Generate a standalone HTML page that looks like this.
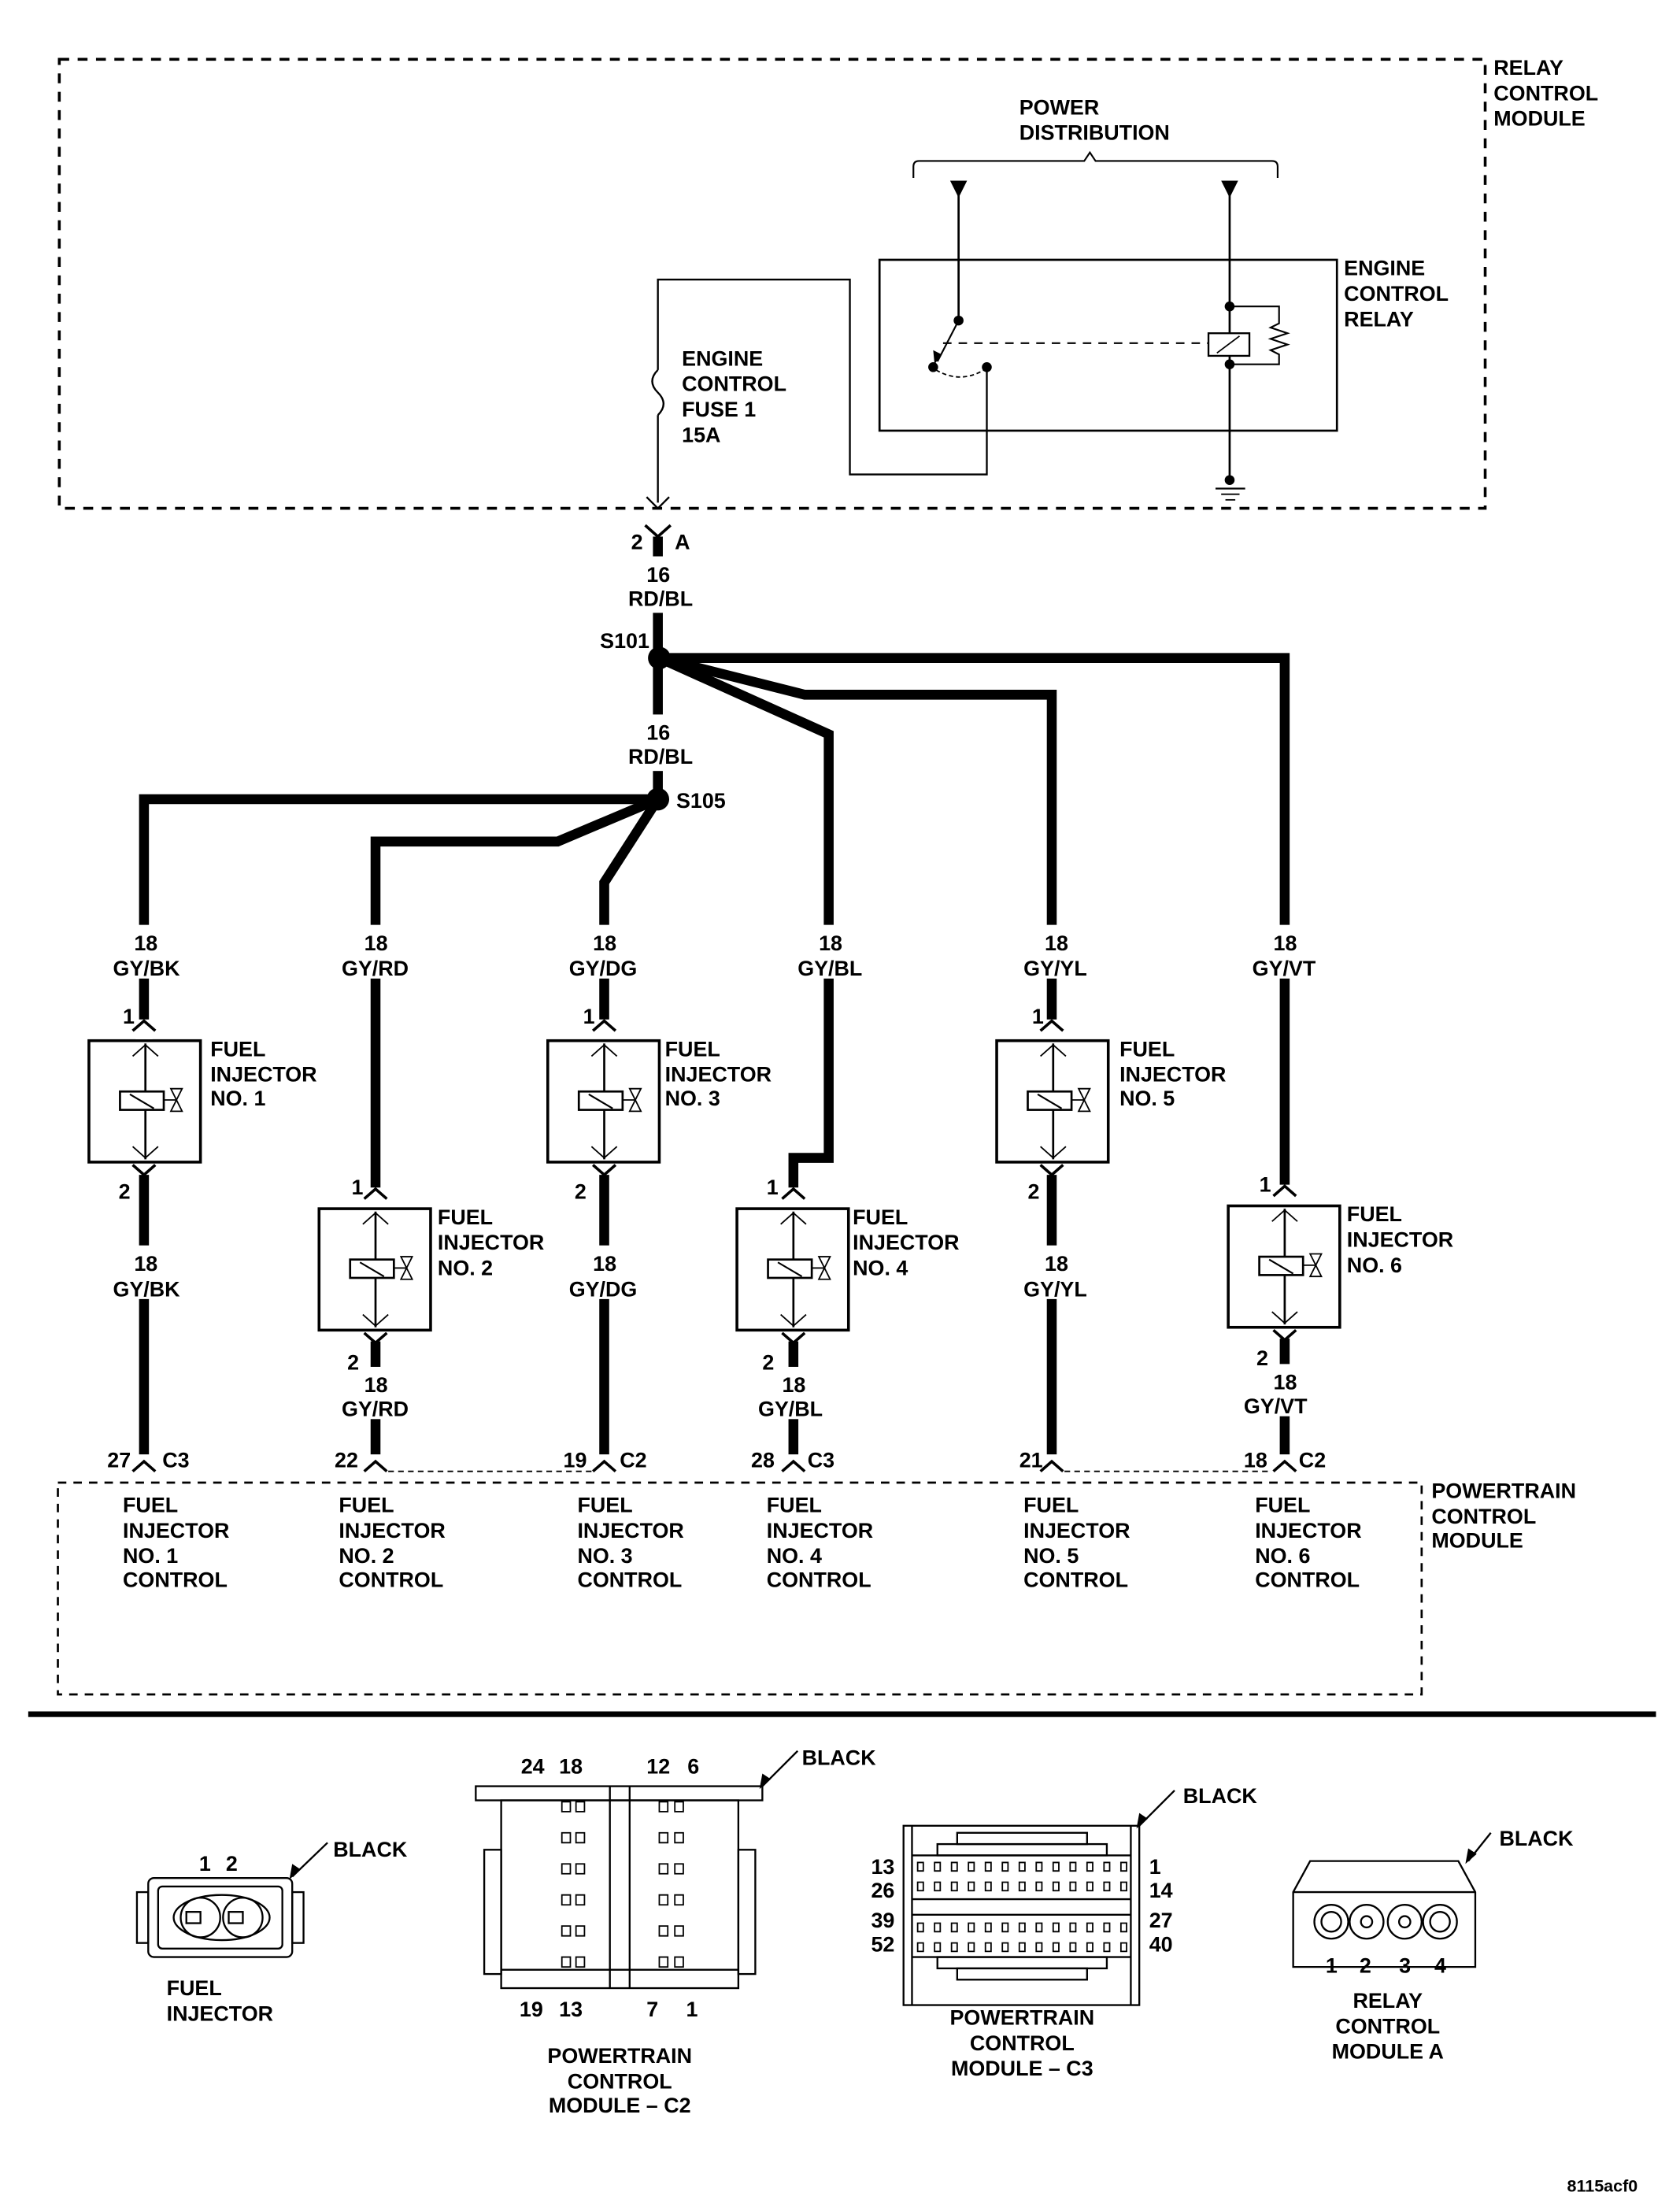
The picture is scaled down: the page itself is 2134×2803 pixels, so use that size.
<!DOCTYPE html>
<html><head><meta charset="utf-8"><style>
html,body{margin:0;padding:0;background:#fff}
svg{display:block}
text{font-family:"Liberation Sans",Arial,sans-serif;font-weight:bold;font-size:15px;fill:#000}
</style></head><body>
<svg width="2134" height="2803" viewBox="0 0 1190 1563" preserveAspectRatio="none" xmlns="http://www.w3.org/2000/svg">
<defs>
<g id="inj">
<rect x="0" y="0" width="79" height="86" fill="#fff" stroke="#000" stroke-width="2"/>
<line x1="40" y1="2" x2="40" y2="84" stroke="#000" stroke-width="1.5"/>
<polyline points="31,11 40,3 49,11" fill="none" stroke="#000" stroke-width="1"/>
<polyline points="31,75 40,83 49,75" fill="none" stroke="#000" stroke-width="1"/>
<rect x="22" y="36" width="31" height="13" fill="#fff" stroke="#000" stroke-width="1.5"/>
<line x1="29" y1="38" x2="46" y2="48" stroke="#000" stroke-width="1.2"/>
<line x1="53" y1="42" x2="62" y2="42" stroke="#000" stroke-width="1"/>
<polygon points="58,34 66,34 58,50 66,50" fill="none" stroke="#000" stroke-width="1"/>
</g>
<g id="pinT"><polyline points="-8,6 0,-1 8,6" fill="none" stroke="#000" stroke-width="2"/></g>
<g id="pinB"><polyline points="-8,-5 0,2 8,-5" fill="none" stroke="#000" stroke-width="2"/></g>
</defs>

<!-- top dashed relay module -->
<rect x="42" y="42" width="1010" height="318" fill="none" stroke="#000" stroke-width="2" stroke-dasharray="7,6"/>
<text x="1058" y="53">RELAY</text><text x="1058" y="71">CONTROL</text><text x="1058" y="89">MODULE</text>
<text x="722" y="81">POWER</text><text x="722" y="99">DISTRIBUTION</text>
<path d="M647 126 V118 Q647 114 651 114 H768 L772 108 L776 114 H901 Q905 114 905 118 V126" fill="none" stroke="#000" stroke-width="1.2"/>
<polygon points="673,128 685,128 679,140" fill="#000"/>
<polygon points="865,128 877,128 871,140" fill="#000"/>
<line x1="679" y1="138" x2="679" y2="226" stroke="#000" stroke-width="1.5"/>
<line x1="871" y1="138" x2="871" y2="340" stroke="#000" stroke-width="1.5"/>
<rect x="623" y="184" width="324" height="121" fill="none" stroke="#000" stroke-width="1.5"/>
<text x="952" y="195">ENGINE</text><text x="952" y="213">CONTROL</text><text x="952" y="231">RELAY</text>
<circle cx="679" cy="227" r="3.5"/><circle cx="661" cy="260" r="3.5"/><circle cx="699" cy="260" r="3.5"/>
<line x1="679" y1="227" x2="664" y2="256" stroke="#000" stroke-width="1.2"/>
<polygon points="662,258 661,248 667,251" fill="#000"/>
<path d="M663 262 Q680 272 697 262" fill="none" stroke="#000" stroke-width="1" stroke-dasharray="3,2"/>
<line x1="668" y1="243" x2="856" y2="243" stroke="#000" stroke-width="1.2" stroke-dasharray="6,5"/>
<rect x="856" y="236" width="29" height="16" fill="#fff" stroke="#000" stroke-width="1.3"/>
<line x1="862" y1="250" x2="878" y2="238" stroke="#000" stroke-width="1"/>
<circle cx="871" cy="217" r="3.5"/><circle cx="871" cy="258" r="3.5"/>
<polyline points="871,217 906,217 906,229 900,232 912,236 900,240 912,244 900,248 906,251 906,258 871,258" fill="none" stroke="#000" stroke-width="1.2"/>
<circle cx="871" cy="340" r="3.5"/>
<line x1="861" y1="346" x2="882" y2="346" stroke="#000" stroke-width="1.3"/>
<line x1="865" y1="350" x2="878" y2="350" stroke="#000" stroke-width="1"/>
<line x1="868" y1="354" x2="875" y2="354" stroke="#000" stroke-width="1"/>
<polyline points="699,260 699,336 602,336 602,198 466,198 466,262" fill="none" stroke="#000" stroke-width="1.3"/>
<path d="M466 262 Q458 270 466 278 Q474 286 466 294" fill="none" stroke="#000" stroke-width="1.3"/>
<line x1="466" y1="294" x2="466" y2="356" stroke="#000" stroke-width="1.3"/>
<text x="483" y="259">ENGINE</text><text x="483" y="277">CONTROL</text><text x="483" y="295">FUSE 1</text><text x="483" y="313">15A</text>
<polyline points="458,352 466,360 474,352" fill="none" stroke="#000" stroke-width="1.3"/>

<!-- thick wires -->
<g fill="none" stroke="#000" stroke-width="7" stroke-linejoin="miter">
<path d="M466 380 V566"/>
<path d="M466 566 H102 V722"/><path d="M102 832 V1032"/>
<path d="M466 566 L395 596 H266 V841"/><path d="M266 950 V1032"/>
<path d="M466 566 L428 625 V722"/><path d="M428 832 V1032"/>
<path d="M467 466 L587 520 V820 H562 V841"/><path d="M562 950 V1032"/>
<path d="M467 466 L570 492 H745 V722"/><path d="M745 832 V1032"/>
<path d="M467 466 H910 V839"/><path d="M910 948 V1032"/>
</g>
<!-- label masks -->
<g fill="#fff">
<rect x="440" y="394" width="60" height="40"/><rect x="440" y="506" width="60" height="40"/>
<rect x="70" y="655" width="70" height="38"/><rect x="232" y="655" width="70" height="38"/><rect x="395" y="655" width="70" height="38"/>
<rect x="555" y="655" width="70" height="38"/><rect x="715" y="655" width="70" height="38"/><rect x="877" y="655" width="70" height="38"/>
<rect x="70" y="882" width="70" height="38"/><rect x="395" y="882" width="70" height="38"/><rect x="715" y="882" width="70" height="38"/>
<rect x="232" y="968" width="70" height="37"/><rect x="527" y="968" width="70" height="37"/><rect x="877" y="966" width="70" height="37"/>
</g>
<polyline points="457,372 466,380 475,372" fill="none" stroke="#000" stroke-width="2"/>
<text x="447" y="389">2</text><text x="478" y="389">A</text>
<text x="458" y="412">16</text><text x="445" y="429">RD/BL</text>
<circle cx="467" cy="466" r="8" fill="#000"/><text x="425" y="459">S101</text>
<text x="458" y="524">16</text><text x="445" y="541">RD/BL</text>
<circle cx="466" cy="566" r="8" fill="#000"/><text x="479" y="572">S105</text>

<!-- top wire labels -->
<text x="95" y="673">18</text><text x="80" y="691">GY/BK</text>
<text x="258" y="673">18</text><text x="242" y="691">GY/RD</text>
<text x="420" y="673">18</text><text x="403" y="691">GY/DG</text>
<text x="580" y="673">18</text><text x="565" y="691">GY/BL</text>
<text x="740" y="673">18</text><text x="725" y="691">GY/YL</text>
<text x="902" y="673">18</text><text x="887" y="691">GY/VT</text>

<!-- injectors -->
<use href="#inj" x="63" y="737"/><use href="#inj" x="226" y="856"/><use href="#inj" x="388" y="737"/>
<use href="#inj" x="522" y="856"/><use href="#inj" x="706" y="737"/><use href="#inj" x="870" y="854"/>
<g fill="#fff"><rect x="96" y="724" width="12" height="12"/></g>
<use href="#pinT" x="102" y="724"/><use href="#pinB" x="102" y="830"/>
<use href="#pinT" x="428" y="724"/><use href="#pinB" x="428" y="830"/>
<use href="#pinT" x="745" y="724"/><use href="#pinB" x="745" y="830"/>
<use href="#pinT" x="266" y="843"/><use href="#pinB" x="266" y="949"/>
<use href="#pinT" x="562" y="843"/><use href="#pinB" x="562" y="949"/>
<use href="#pinT" x="910" y="841"/><use href="#pinB" x="910" y="947"/>
<text x="87" y="725">1</text><text x="84" y="849">2</text>
<text x="413" y="725">1</text><text x="407" y="849">2</text>
<text x="731" y="725">1</text><text x="728" y="849">2</text>
<text x="249" y="846">1</text><text x="246" y="970">2</text>
<text x="543" y="846">1</text><text x="540" y="970">2</text>
<text x="892" y="844">1</text><text x="890" y="967">2</text>
<text x="149" y="748">FUEL</text><text x="149" y="766">INJECTOR</text><text x="149" y="783">NO. 1</text>
<text x="310" y="867">FUEL</text><text x="310" y="885">INJECTOR</text><text x="310" y="903">NO. 2</text>
<text x="471" y="748">FUEL</text><text x="471" y="766">INJECTOR</text><text x="471" y="783">NO. 3</text>
<text x="604" y="867">FUEL</text><text x="604" y="885">INJECTOR</text><text x="604" y="903">NO. 4</text>
<text x="793" y="748">FUEL</text><text x="793" y="766">INJECTOR</text><text x="793" y="783">NO. 5</text>
<text x="954" y="865">FUEL</text><text x="954" y="883">INJECTOR</text><text x="954" y="901">NO. 6</text>

<!-- bottom wire labels -->
<text x="95" y="900">18</text><text x="80" y="918">GY/BK</text>
<text x="420" y="900">18</text><text x="403" y="918">GY/DG</text>
<text x="740" y="900">18</text><text x="725" y="918">GY/YL</text>
<text x="258" y="986">18</text><text x="242" y="1003">GY/RD</text>
<text x="554" y="986">18</text><text x="537" y="1003">GY/BL</text>
<text x="902" y="984">18</text><text x="881" y="1001">GY/VT</text>

<!-- PCM connectors -->
<g fill="#fff"><rect x="90" y="1030" width="24" height="12"/><rect x="254" y="1030" width="24" height="12"/><rect x="416" y="1030" width="24" height="12"/><rect x="550" y="1030" width="24" height="12"/><rect x="733" y="1030" width="24" height="12"/><rect x="898" y="1030" width="24" height="12"/></g>
<use href="#pinT" x="102" y="1036"/><use href="#pinT" x="266" y="1036"/><use href="#pinT" x="428" y="1036"/>
<use href="#pinT" x="562" y="1036"/><use href="#pinT" x="745" y="1036"/><use href="#pinT" x="910" y="1036"/>
<text x="76" y="1039">27</text><text x="115" y="1039">C3</text>
<text x="237" y="1039">22</text>
<text x="399" y="1039">19</text><text x="439" y="1039">C2</text>
<text x="532" y="1039">28</text><text x="572" y="1039">C3</text>
<text x="722" y="1039">21</text>
<text x="881" y="1039">18</text><text x="920" y="1039">C2</text>
<line x1="275" y1="1042" x2="419" y2="1042" stroke="#000" stroke-width="1" stroke-dasharray="4,3"/>
<line x1="754" y1="1042" x2="901" y2="1042" stroke="#000" stroke-width="1" stroke-dasharray="4,3"/>
<rect x="41" y="1050" width="966" height="150" fill="none" stroke="#000" stroke-width="1.5" stroke-dasharray="6,5"/>
<text x="1014" y="1061">POWERTRAIN</text><text x="1014" y="1079">CONTROL</text><text x="1014" y="1096">MODULE</text>
<g>
<text x="87" y="1071">FUEL</text><text x="87" y="1089">INJECTOR</text><text x="87" y="1107">NO. 1</text><text x="87" y="1124">CONTROL</text>
<text x="240" y="1071">FUEL</text><text x="240" y="1089">INJECTOR</text><text x="240" y="1107">NO. 2</text><text x="240" y="1124">CONTROL</text>
<text x="409" y="1071">FUEL</text><text x="409" y="1089">INJECTOR</text><text x="409" y="1107">NO. 3</text><text x="409" y="1124">CONTROL</text>
<text x="543" y="1071">FUEL</text><text x="543" y="1089">INJECTOR</text><text x="543" y="1107">NO. 4</text><text x="543" y="1124">CONTROL</text>
<text x="725" y="1071">FUEL</text><text x="725" y="1089">INJECTOR</text><text x="725" y="1107">NO. 5</text><text x="725" y="1124">CONTROL</text>
<text x="889" y="1071">FUEL</text><text x="889" y="1089">INJECTOR</text><text x="889" y="1107">NO. 6</text><text x="889" y="1124">CONTROL</text>
</g>
<rect x="20" y="1212" width="1153" height="4" fill="#000"/>

<!-- connector views -->
<g fill="none" stroke="#000" stroke-width="1.3">
<!-- fuel injector -->
<rect x="105" y="1330" width="102" height="56" rx="4"/>
<rect x="112" y="1336" width="88" height="44" rx="3"/>
<rect x="97" y="1340" width="8" height="36"/><rect x="207" y="1340" width="8" height="36"/>
<ellipse cx="157" cy="1358" rx="34" ry="16"/>
<circle cx="142" cy="1358" r="14"/><circle cx="172" cy="1358" r="14"/>
<rect x="132" y="1354" width="10" height="8"/><rect x="162" y="1354" width="10" height="8"/>
<line x1="207" y1="1329" x2="232" y2="1305"/>
<!-- C2 -->
<rect x="337" y="1265" width="203" height="10"/>
<rect x="355" y="1275" width="168" height="133"/>
<line x1="432" y1="1265" x2="432" y2="1408"/><line x1="446" y1="1265" x2="446" y2="1408"/>
<rect x="343" y="1310" width="12" height="88"/><rect x="523" y="1310" width="12" height="88"/>
<line x1="355" y1="1395" x2="523" y2="1395"/>
<line x1="540" y1="1265" x2="565" y2="1240"/>
<!-- C3 -->
<rect x="640" y="1293" width="167" height="127"/>
<line x1="646" y1="1293" x2="646" y2="1420"/><line x1="801" y1="1293" x2="801" y2="1420"/>
<rect x="678" y="1298" width="92" height="8"/><rect x="664" y="1306" width="120" height="8"/>
<line x1="646" y1="1314" x2="801" y2="1314"/>
<line x1="646" y1="1345" x2="801" y2="1345"/><line x1="646" y1="1356" x2="801" y2="1356"/>
<line x1="646" y1="1386" x2="801" y2="1386"/>
<rect x="664" y="1386" width="120" height="8"/><rect x="678" y="1394" width="92" height="8"/>
<line x1="807" y1="1293" x2="832" y2="1268"/>
<!-- relay -->
<path d="M928 1318 H1033 L1045 1340 V1393 H916 V1340 Z"/>
<line x1="916" y1="1340" x2="1045" y2="1340"/>
<circle cx="943" cy="1361" r="12"/><circle cx="968" cy="1361" r="12"/><circle cx="995" cy="1361" r="12"/><circle cx="1020" cy="1361" r="12"/>
<circle cx="943" cy="1361" r="7"/><circle cx="968" cy="1361" r="4"/><circle cx="995" cy="1361" r="4"/><circle cx="1020" cy="1361" r="7"/>
<line x1="1040" y1="1318" x2="1056" y2="1298"/>
</g>
<g fill="none" stroke="#000" stroke-width="1">
<!-- C2 pins -->
<path d="M398 1276h6v7h-6zM408 1276h6v7h-6zM467 1276h6v7h-6zM478 1276h6v7h-6z"/>
<path d="M398 1298h6v7h-6zM408 1298h6v7h-6zM467 1298h6v7h-6zM478 1298h6v7h-6z"/>
<path d="M398 1320h6v7h-6zM408 1320h6v7h-6zM467 1320h6v7h-6zM478 1320h6v7h-6z"/>
<path d="M398 1342h6v7h-6zM408 1342h6v7h-6zM467 1342h6v7h-6zM478 1342h6v7h-6z"/>
<path d="M398 1364h6v7h-6zM408 1364h6v7h-6zM467 1364h6v7h-6zM478 1364h6v7h-6z"/>
<path d="M398 1386h6v7h-6zM408 1386h6v7h-6zM467 1386h6v7h-6zM478 1386h6v7h-6z"/>
<!-- C3 pins -->
<path d="M650 1319h4v6h-4zM662 1319h4v6h-4zM674 1319h4v6h-4zM686 1319h4v6h-4zM698 1319h4v6h-4zM710 1319h4v6h-4zM722 1319h4v6h-4zM734 1319h4v6h-4zM746 1319h4v6h-4zM758 1319h4v6h-4zM770 1319h4v6h-4zM782 1319h4v6h-4zM794 1319h4v6h-4z"/>
<path d="M650 1333h4v6h-4zM662 1333h4v6h-4zM674 1333h4v6h-4zM686 1333h4v6h-4zM698 1333h4v6h-4zM710 1333h4v6h-4zM722 1333h4v6h-4zM734 1333h4v6h-4zM746 1333h4v6h-4zM758 1333h4v6h-4zM770 1333h4v6h-4zM782 1333h4v6h-4zM794 1333h4v6h-4z"/>
<path d="M650 1362h4v6h-4zM662 1362h4v6h-4zM674 1362h4v6h-4zM686 1362h4v6h-4zM698 1362h4v6h-4zM710 1362h4v6h-4zM722 1362h4v6h-4zM734 1362h4v6h-4zM746 1362h4v6h-4zM758 1362h4v6h-4zM770 1362h4v6h-4zM782 1362h4v6h-4zM794 1362h4v6h-4z"/>
<path d="M650 1376h4v6h-4zM662 1376h4v6h-4zM674 1376h4v6h-4zM686 1376h4v6h-4zM698 1376h4v6h-4zM710 1376h4v6h-4zM722 1376h4v6h-4zM734 1376h4v6h-4zM746 1376h4v6h-4zM758 1376h4v6h-4zM770 1376h4v6h-4zM782 1376h4v6h-4zM794 1376h4v6h-4z"/>
</g>
<g fill="#000">
<polygon points="205,1331 207,1320 213,1324"/><polygon points="538,1267 540,1256 546,1260"/>
<polygon points="805,1295 807,1284 813,1288"/><polygon points="1038,1320 1040,1309 1046,1313"/>
</g>
<text x="141" y="1325">1</text><text x="160" y="1325">2</text>
<text x="236" y="1315">BLACK</text>
<text x="118" y="1413">FUEL</text><text x="118" y="1431" >INJECTOR</text>
<text x="369" y="1256">24</text><text x="396" y="1256">18</text><text x="458" y="1256">12</text><text x="487" y="1256">6</text>
<text x="568" y="1250">BLACK</text>
<text x="368" y="1428">19</text><text x="396" y="1428">13</text><text x="458" y="1428">7</text><text x="486" y="1428">1</text>
<text x="439" y="1461" text-anchor="middle">POWERTRAIN</text><text x="439" y="1479" text-anchor="middle">CONTROL</text><text x="439" y="1496" text-anchor="middle">MODULE – C2</text>
<text x="838" y="1277">BLACK</text>
<text x="617" y="1327">13</text><text x="617" y="1344">26</text><text x="617" y="1365">39</text><text x="617" y="1382">52</text>
<text x="814" y="1327">1</text><text x="814" y="1344">14</text><text x="814" y="1365">27</text><text x="814" y="1382">40</text>
<text x="724" y="1434" text-anchor="middle">POWERTRAIN</text><text x="724" y="1452" text-anchor="middle">CONTROL</text><text x="724" y="1470" text-anchor="middle">MODULE – C3</text>
<text x="1062" y="1307">BLACK</text>
<text x="939" y="1397">1</text><text x="963" y="1397">2</text><text x="991" y="1397">3</text><text x="1016" y="1397">4</text>
<text x="983" y="1422" text-anchor="middle">RELAY</text><text x="983" y="1440" text-anchor="middle">CONTROL</text><text x="983" y="1458" text-anchor="middle">MODULE A</text>
<text x="1110" y="1552" style="font-size:12px">8115acf0</text>
</svg>
</body></html>
